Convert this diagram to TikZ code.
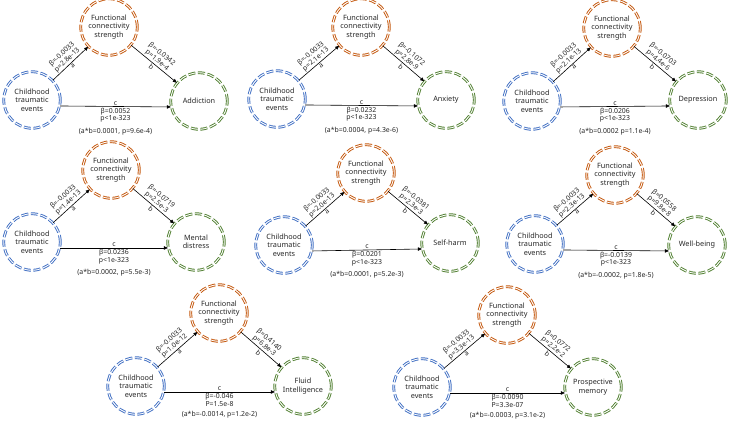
\documentclass[tikz,border=0pt]{standalone}
\usepackage{fontspec}
\setmainfont{Noto Sans}
\usepackage{xcolor}
\usetikzlibrary{arrows.meta,positioning}
\definecolor{cblue}{HTML}{4472C4}
\definecolor{corange}{HTML}{C55A11}
\definecolor{cgreen}{HTML}{548235}
\begin{document}
\begin{tikzpicture}[x=1pt, y=-1pt,
  var/.style={circle, draw=#1, double=white, double distance=0.9pt, line width=0.95pt,
              dash pattern=on 7pt off 2.6pt, minimum size=56.5pt, inner sep=0pt,
              align=center, text=black!85, font=\fontsize{7.3}{8.5}\selectfont},
  var/.default=cblue,
  arr/.style={-{Triangle[length=4pt,width=3.4pt]}, line width=0.6pt},
  lbl/.style={font=\fontsize{6.9}{7.6}\selectfont, align=center, inner sep=1pt, text=black!85},
]
\useasboundingbox (0,0) rectangle (731,426);
% Addiction
\node[var=cblue]   (c1) at (32,100)  {Childhood\\traumatic\\events};
\node[var=corange] (f1) at (109,27)  {Functional\\connectivity\\strength};
\node[var=cgreen]  (o1) at (199,101) {Addiction};
\draw[arr] (c1) -- node[lbl,sloped,above]{β=-0.0033\\p=2.8e-13} node[lbl,sloped,below]{a} (f1);
\draw[arr] (f1) -- node[lbl,sloped,above]{β=-0.0342\\p=1.9e-4} node[lbl,sloped,below]{b} (o1);
\draw[arr] (c1.-12) -- node[lbl,above]{c} node[lbl,below] (e1) {β=0.0052\\p<1e-323} (o1.192);
\node[lbl, below=3pt of e1] (ab1) {(a*b=0.0001, p=9.6e-4)};
% Anxiety
\node[var=cblue]   (c2) at (277,99)  {Childhood\\traumatic\\events};
\node[var=corange] (f2) at (361,27)  {Functional\\connectivity\\strength};
\node[var=cgreen]  (o2) at (446,100) {Anxiety};
\draw[arr] (c2) -- node[lbl,sloped,above]{β=-0.0033\\p=2.1e-13} node[lbl,sloped,below]{a} (f2);
\draw[arr] (f2) -- node[lbl,sloped,above]{β=-0.1072\\p=2.8e-9} node[lbl,sloped,below]{b} (o2);
\draw[arr] (c2.-12) -- node[lbl,above]{c} node[lbl,below] (e2) {β=0.0232\\p<1e-323} (o2.192);
\node[lbl, below=3pt of e2] (ab2) {(a*b=0.0004, p=4.3e-6)};
% Depression
\node[var=cblue]   (c3) at (532,101) {Childhood\\traumatic\\events};
\node[var=corange] (f3) at (612,28)  {Functional\\connectivity\\strength};
\node[var=cgreen]  (o3) at (698,100) {Depression};
\draw[arr] (c3) -- node[lbl,sloped,above]{β=-0.0033\\p=2.1e-13} node[lbl,sloped,below]{a} (f3);
\draw[arr] (f3) -- node[lbl,sloped,above]{β=-0.0703\\p=4.4e-6} node[lbl,sloped,below]{b} (o3);
\draw[arr] (c3.-12) -- node[lbl,above]{c} node[lbl,below] (e3) {β=0.0206\\p<1e-323} (o3.192);
\node[lbl, below=3pt of e3] (ab3) {(a*b=0.0002 p=1.1e-4)};
% Mental distress
\node[var=cblue]   (c4) at (32,242)  {Childhood\\traumatic\\events};
\node[var=corange] (f4) at (111,170) {Functional\\connectivity\\strength};
\node[var=cgreen]  (o4) at (196,242) {Mental\\distress};
\draw[arr] (c4) -- node[lbl,sloped,above]{β=-0.0033\\p=1.4e-13} node[lbl,sloped,below]{a} (f4);
\draw[arr] (f4) -- node[lbl,sloped,above]{β=-0.0719\\p=2.5e-3} node[lbl,sloped,below]{b} (o4);
\draw[arr] (c4.-12) -- node[lbl,above]{c} node[lbl,below] (e4) {β=0.0236\\p<1e-323} (o4.192);
\node[lbl, below=3pt of e4] (ab4) {(a*b=0.0002, p=5.5e-3)};
% Self-harm
\node[var=cblue]   (c5) at (284,245) {Childhood\\traumatic\\events};
\node[var=corange] (f5) at (366,173) {Functional\\connectivity\\strength};
\node[var=cgreen]  (o5) at (450,243) {Self-harm};
\draw[arr] (c5) -- node[lbl,sloped,above]{β=-0.0033\\p=2.0e-13} node[lbl,sloped,below]{a} (f5);
\draw[arr] (f5) -- node[lbl,sloped,above]{β=-0.0381\\p=2.3e-3} node[lbl,sloped,below]{b} (o5);
\draw[arr] (c5.-12) -- node[lbl,above]{c} node[lbl,below] (e5) {β=0.0201\\p<1e-323} (o5.192);
\node[lbl, below=3pt of e5] (ab5) {(a*b=0.0001, p=5.2e-3)};
% Well-being
\node[var=cblue]   (c6) at (535,244) {Childhood\\traumatic\\events};
\node[var=corange] (f6) at (615,175) {Functional\\connectivity\\strength};
\node[var=cgreen]  (o6) at (697,245) {Well-being};
\draw[arr] (c6) -- node[lbl,sloped,above]{β=-0.0033\\p=2.3e-13} node[lbl,sloped,below]{a} (f6);
\draw[arr] (f6) -- node[lbl,sloped,above]{β=0.0558\\p=9.8e-8} node[lbl,sloped,below]{b} (o6);
\draw[arr] (c6.-12) -- node[lbl,above]{c} node[lbl,below] (e6) {β=-0.0139\\p<1e-323} (o6.192);
\node[lbl, below=3pt of e6] (ab6) {(a*b=-0.0002, p=1.8e-5)};
% Fluid intelligence
\node[var=cblue]   (c7) at (136,386) {Childhood\\traumatic\\events};
\node[var=corange] (f7) at (219,313) {Functional\\connectivity\\strength};
\node[var=cgreen]  (o7) at (303,386) {Fluid\\Intelligence};
\draw[arr] (c7) -- node[lbl,sloped,above]{β=-0.0033\\p=1.0e-12} node[lbl,sloped,below]{a} (f7);
\draw[arr] (f7) -- node[lbl,sloped,above]{β=0.4140\\p=6.8e-3} node[lbl,sloped,below]{b} (o7);
\draw[arr] (c7.-12) -- node[lbl,above]{c} node[lbl,below] (e7) {β=-0.046\\P=1.5e-8} (o7.192);
\node[lbl, below=3pt of e7] (ab7) {(a*b=-0.0014, p=1.2e-2)};
% Prospective memory
\node[var=cblue]   (c8) at (422,387) {Childhood\\traumatic\\events};
\node[var=corange] (f8) at (507,315) {Functional\\connectivity\\strength};
\node[var=cgreen]  (o8) at (593,387) {Prospective\\memory};
\draw[arr] (c8) -- node[lbl,sloped,above]{β=-0.0033\\p=3.3e-13} node[lbl,sloped,below]{a} (f8);
\draw[arr] (f8) -- node[lbl,sloped,above]{β=0.0772\\p=2.2e-2} node[lbl,sloped,below]{b} (o8);
\draw[arr] (c8.-12) -- node[lbl,above]{c} node[lbl,below] (e8) {β=-0.0090\\P=3.3e-07} (o8.192);
\node[lbl, below=3pt of e8] (ab8) {(a*b=-0.0003, p=3.1e-2)};
\end{tikzpicture}
\end{document}
